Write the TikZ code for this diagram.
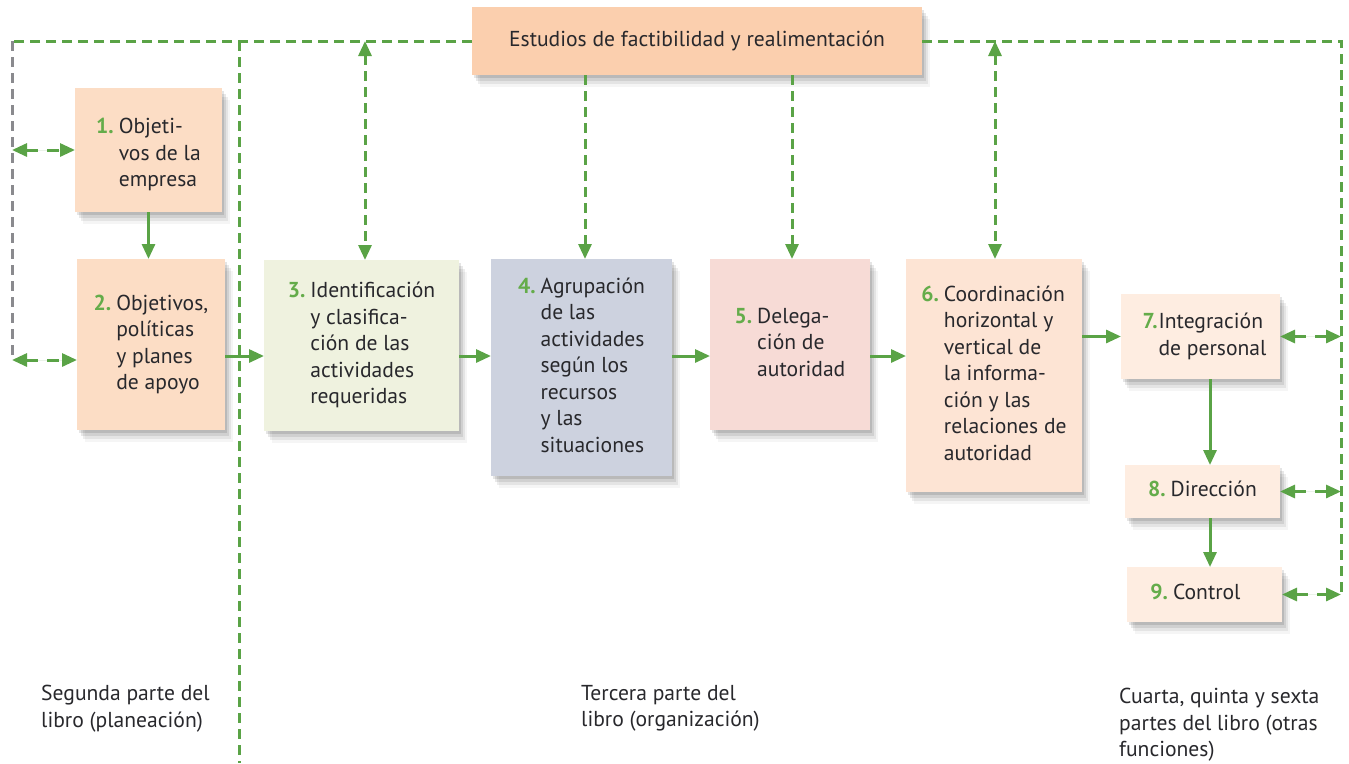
\documentclass[tikz,border=0pt]{standalone}
\usepackage{fontspec}
\setmainfont{PT Sans}
\usetikzlibrary{arrows.meta,shadows,calc}
\definecolor{grn}{RGB}{90,163,70}
\definecolor{numgrn}{RGB}{100,172,74}
\definecolor{railgray}{RGB}{138,138,142}
\definecolor{txt}{RGB}{40,40,44}
\definecolor{ctop}{RGB}{251,207,174}
\definecolor{cone}{RGB}{252,221,197}
\definecolor{cthree}{RGB}{239,242,223}
\definecolor{cfour}{RGB}{205,210,223}
\definecolor{cfive}{RGB}{247,219,214}
\definecolor{csix}{RGB}{253,228,212}
\definecolor{cseven}{RGB}{254,237,225}
\newcommand\boxfont{\fontsize{21.6}{26.5}\selectfont}
\newcommand\itm[3][5pt]{\begin{tabular}{@{}l@{\hspace{#1}}l@{}}\textcolor{numgrn}{\bfseries #2} & \begin{tabular}[t]{@{}l@{}}#3\end{tabular}\end{tabular}}
\newcommand\lowerby[2]{\raisebox{0pt}[\dimexpr\height+#1\relax][\depth]{#2}}
\begin{document}
\begin{tikzpicture}[x=1pt,y=-1pt,
  >={Triangle[length=15pt,width=13pt]},
  shadowed/.style={
    drop shadow={shadow xshift=2pt,shadow yshift=-3pt,opacity=.10,fill=black},
    drop shadow={shadow xshift=4pt,shadow yshift=-6pt,opacity=.09,fill=black},
    drop shadow={shadow xshift=6pt,shadow yshift=-9pt,opacity=.07,fill=black},
    drop shadow={shadow xshift=8pt,shadow yshift=-12pt,opacity=.04,fill=black}},
  stepbox/.style={draw=none,inner sep=0pt,outer sep=0pt,anchor=north west,shadowed,text=txt,font=\boxfont},
  dsh/.style={draw=grn,line width=3pt,dash pattern=on 10pt off 6pt},
  dshg/.style={draw=railgray,line width=3pt,dash pattern=on 10pt off 6pt},
  dshs/.style={draw=grn,fill=grn,line width=3pt,dash pattern=on 12pt off 9pt},
  sol/.style={draw=grn,line width=3pt},
  lbl/.style={inner sep=0pt,anchor=north west,align=left,text=txt,font=\boxfont}]
\useasboundingbox (0,0) rectangle (1349,763);

% boxes
\node[stepbox,fill=ctop,minimum width=450pt,minimum height=68pt] (top) at (472,7)
  {Estudios de factibilidad y realimentación};
\node[stepbox,fill=cone,minimum width=147pt,minimum height=124pt] (b1) at (75,88)
  {\lowerby{10pt}{\itm{1.}{Objeti-\\vos de la\\empresa}}};
\node[stepbox,fill=cone,minimum width=148pt,minimum height=171pt] (b2) at (77,259)
  {\itm{2.}{Objetivos,\\políticas\\y planes\\de apoyo}};
\node[stepbox,fill=cthree,minimum width=195pt,minimum height=171pt] (b3) at (264,260)
  {\itm{3.}{Identificación\\y clasifica-\\ción de las\\actividades\\requeridas}};
\node[stepbox,fill=cfour,minimum width=181pt,minimum height=217pt] (b4) at (491,259)
  {\itm{4.}{Agrupación\\de las\\actividades\\según los\\recursos\\y las\\situaciones}};
\node[stepbox,fill=cfive,minimum width=160pt,minimum height=171pt] (b5) at (710,259)
  {\itm{5.}{Delega-\\ción de\\autoridad}};
\node[stepbox,fill=csix,minimum width=176pt,minimum height=233pt] (b6) at (906,259)
  {\itm{6.}{Coordinación\\horizontal y\\vertical de\\la informa-\\ción y las\\relaciones de\\autoridad}};
\node[stepbox,fill=cseven,minimum width=159pt,minimum height=85pt] (b7) at (1121,294)
  {\hspace*{8pt}\itm[1pt]{7.}{Integración\\de personal}};
\node[stepbox,fill=cseven,minimum width=155pt,minimum height=53pt] (b8) at (1125,465)
  {\itm{8.}{Dirección}};
\node[stepbox,fill=cseven,minimum width=155pt,minimum height=55pt] (b9) at (1127,567)
  {\hspace*{-18pt}\itm{9.}{Control}};

% labels
\node[lbl] (l1) at (41,685) {Segunda parte del\\libro (planeación)};
\node[lbl] (l2) at (581,685) {Tercera parte del\\libro (organización)};
\node[lbl] (l3) at (1119,688) {Cuarta, quinta y sexta\\partes del libro (otras\\funciones)};

% rails
\coordinate (TL) at (12,41);
\coordinate (TR) at (1341,41);
\coordinate (LB) at (12,360);
\coordinate (RB) at (1341,598);
\coordinate (V1) at (239,41);
\coordinate (V1b) at (239,763);
\coordinate (A3) at (365,41);
\coordinate (A6) at (995,41);
\coordinate (D4) at (585,0);
\coordinate (D5) at (792,0);
\coordinate (X78) at (1210,0);
\coordinate (row) at (0,356);

\draw[dsh] (top.west) -- (TL);
\draw[dshg] (TL) -- (LB);
\draw[dsh] (top.east) -- (TR) -- (RB);
\draw[dsh] (V1) -- (V1b);

% feedback arrows from top
\draw[dsh,<->] (A3) -- (A3 |- b3.north);
\draw[dsh,<->] (A6) -- (A6 |- b6.north);
\draw[dsh,->] (top.south -| D4) -- (b4.north -| D4);
\draw[dsh,->] (top.south -| D5) -- (b5.north -| D5);

% short double arrows
\draw[dshs,<->] (b1.west -| TL) -- (b1.west);
\draw[dshs,<->] (LB) -- (LB -| b2.west);
\draw[dshs,<->] (b7.east) -- (b7.east -| TR);
\draw[dshs,<->] (b8.east) -- (b8.east -| TR);
\draw[dshs,<->] (b9.east) -- (b9.east -| TR);

% solid flow
\draw[sol,->] (b1.south) -- (b1.south |- b2.north);
\draw[sol,->] (b2.east |- row) -- (b3.west |- row);
\draw[sol,->] (b3.east |- row) -- (b4.west |- row);
\draw[sol,->] (b4.east |- row) -- (b5.west |- row);
\draw[sol,->] (b5.east |- row) -- (b6.west |- row);
\draw[sol,->] (b6.east |- b7.west) -- (b7.west);
\draw[sol,->] (b7.south -| X78) -- (b8.north -| X78);
\draw[sol,->] (b8.south -| X78) -- (b9.north -| X78);
\end{tikzpicture}
\end{document}
